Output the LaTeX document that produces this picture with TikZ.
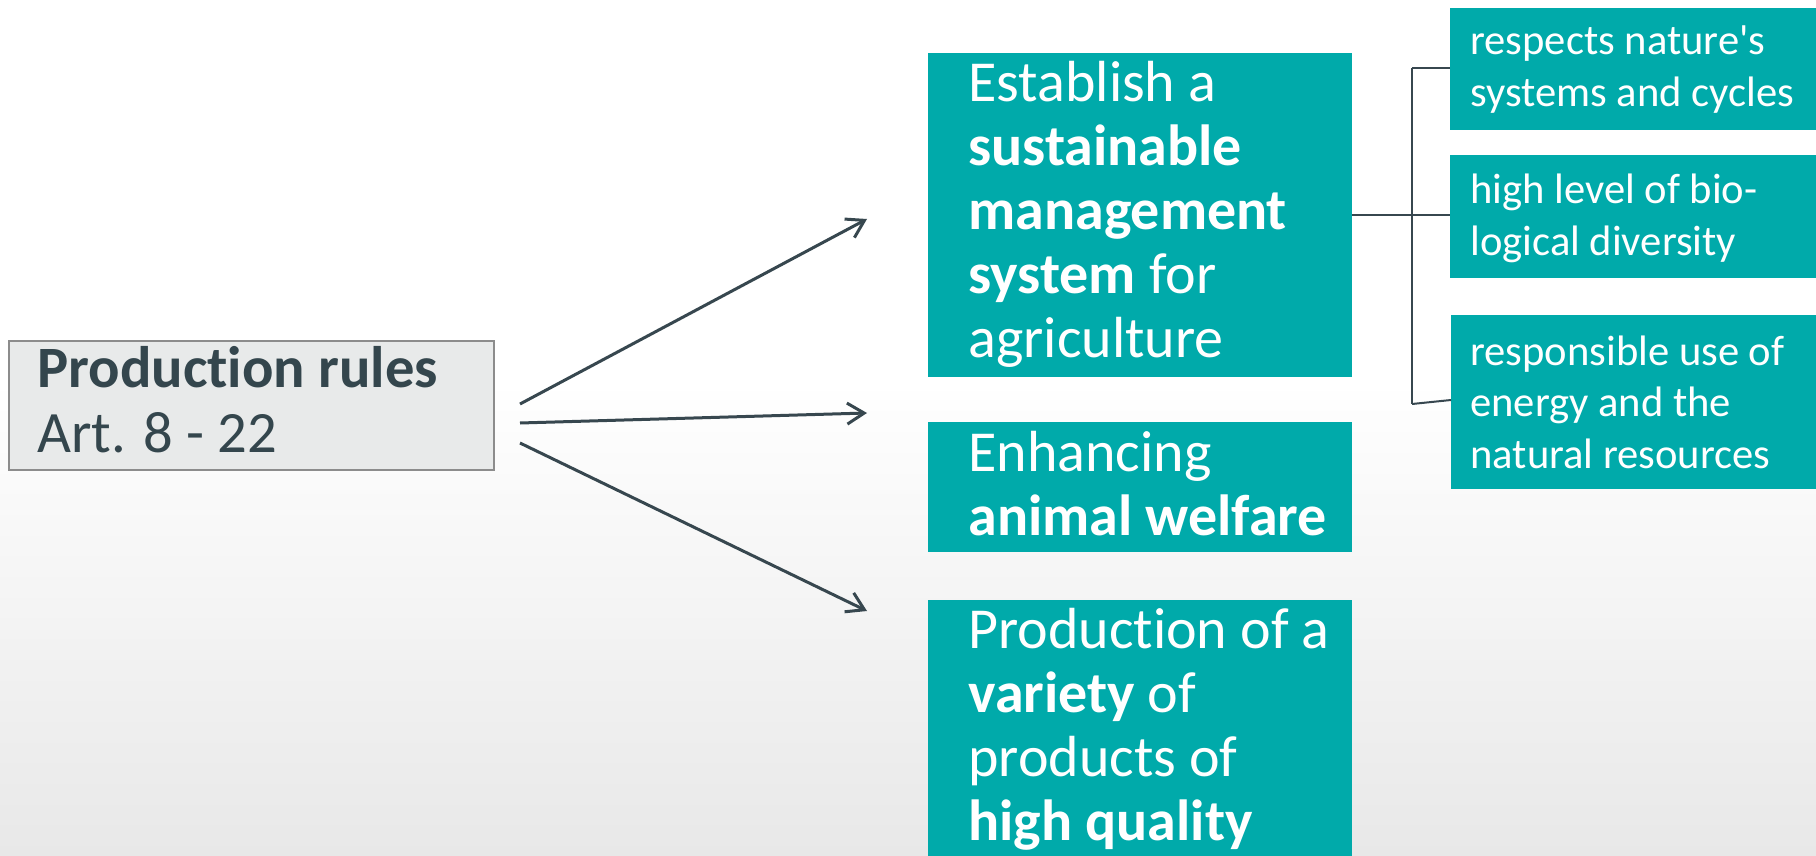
\documentclass[tikz,border=0pt]{standalone}
\usepackage{fontspec}
\setmainfont{Carlito}[Ligatures={TeXOff,NoCommon}]
\usetikzlibrary{arrows.meta}
\definecolor{tealbg}{RGB}{0,170,170}
\definecolor{darktx}{RGB}{52,70,77}
\definecolor{boxg}{RGB}{232,234,234}
\definecolor{boxb}{RGB}{140,140,140}
\definecolor{bgb}{RGB}{232,232,232}
\definecolor{linec}{RGB}{55,71,79}
\begin{document}
\begin{tikzpicture}[x=0.5pt,y=-0.5pt,
  tealbox/.style={fill=tealbg, draw=none, inner sep=0pt, outer sep=0pt, anchor=north west},
  bigtext/.style={anchor=base west, inner sep=0pt, text width=205pt, align=flush left, text=white, font=\fontsize{29}{32}\selectfont},
  smalltext/.style={anchor=base west, inner sep=0pt, text width=178pt, align=flush left, text=white, font=\fontsize{21.3}{25.75}\selectfont},
  prtext/.style={anchor=base west, inner sep=0pt, text width=235pt, align=flush left, text=darktx, font=\fontsize{29.3}{32.5}\selectfont},
  arrowline/.style={draw=linec, line width=1.5pt, -{Straight Barb[length=8.5pt,width=10.5pt]}},
  bracket/.style={draw=linec, line width=1pt}]
\useasboundingbox (0,0) rectangle (1816,856);
\fill[white] (0,0) rectangle (1816,856);
\shade[top color=white, bottom color=bgb] (0,380) rectangle (1816,856);

% left box
\node[fill=boxg, draw=boxb, line width=1pt, inner sep=0pt, anchor=north west,
      minimum width=242.5pt, minimum height=64.5pt] (pr) at (8,340) {};
\node[prtext] (tpr) at (37,387) {\textbf{Production rules}\\Art. 8 - 22};

% main teal boxes
\node[tealbox, minimum width=212pt, minimum height=162pt] (b1) at (928,53) {};
\node[tealbox, minimum width=212pt, minimum height=65pt] (b2) at (928,422) {};
\node[tealbox, minimum width=212pt, minimum height=128pt] (b3) at (928,600) {};
\node[bigtext] (t1) at (968,102) {Establish a\\\textbf{sustainable}\\\textbf{management}\\\textbf{system} for\\agriculture};
\node[bigtext] (t2) at (968,471) {Enhancing\\\textbf{animal welfare}};
\node[bigtext] (t3) at (968,648) {Production of a\\\textbf{variety} of\\products of\\\textbf{high quality}};

% small teal boxes
\node[tealbox, minimum width=183pt, minimum height=61pt] (ba) at (1450,8) {};
\node[tealbox, minimum width=183pt, minimum height=61.5pt] (bb) at (1450,155) {};
\node[tealbox, minimum width=182.5pt, minimum height=87pt] (bc) at (1451,315) {};
\node[smalltext] (ta) at (1470,55) {respects nature's\\systems and cycles};
\node[smalltext] (tb) at (1470,204) {high level of bio-\\logical diversity};
\node[smalltext] (tc) at (1470,365) {responsible use of\\energy and the\\natural resources};

% arrows
\coordinate (a1s) at (520,404); \coordinate (a1e) at (867,219);
\coordinate (a2s) at (520,423); \coordinate (a2e) at (867,413);
\coordinate (a3s) at (520,443); \coordinate (a3e) at (867,611);
\draw[arrowline] (a1s) -- (a1e);
\draw[arrowline] (a2s) -- (a2e);
\draw[arrowline] (a3s) -- (a3e);

% bracket connector
\coordinate (jt) at (1412,68);
\coordinate (jm) at (1412,215);
\coordinate (jb) at (1412,404);
\coordinate (ce) at (1451,400);
\draw[bracket] (b1.east) -- (jm);
\draw[bracket] (jt) -- (jb);
\draw[bracket] (jt) -- (jt -| ba.west);
\draw[bracket] (jm) -- (jm -| bb.west);
\draw[bracket] (jb) -- (ce);
\end{tikzpicture}
\end{document}
